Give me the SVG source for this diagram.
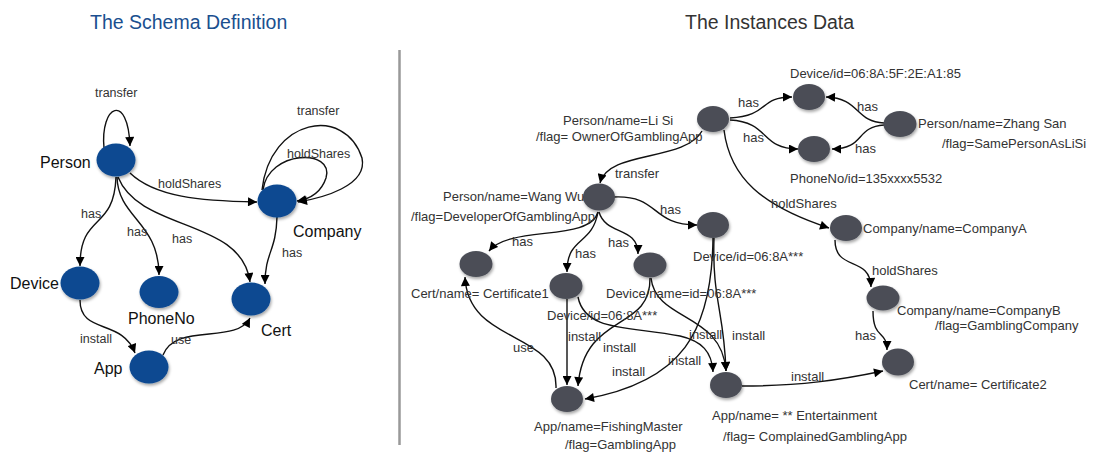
<svg xmlns="http://www.w3.org/2000/svg" width="1099" height="453" viewBox="0 0 1099 453">
<style>
text{font-family:"Liberation Sans",Arial,sans-serif}
.title{font-size:19.5px}
.sn{fill:#0e4a91}
.in{fill:#4b4e57}
.nl{font-size:16px;fill:#111}
.rl{font-size:13px;fill:#333}
.el{font-size:12.5px;fill:#333}
.e{fill:none;stroke:#111;stroke-width:1.4}
</style>
<defs>
<filter id="sh" x="-30%" y="-30%" width="160%" height="170%"><feDropShadow dx="1" dy="2" stdDeviation="1.5" flood-color="#000" flood-opacity="0.35"/></filter>
<marker id="arr" viewBox="0 0 10 10" refX="10" refY="5" markerWidth="10" markerHeight="9" markerUnits="userSpaceOnUse" orient="auto"><path d="M0,0 L10,5 L0,10 z" fill="#000"/></marker>
</defs>
<rect width="1099" height="453" fill="#fff"/>
<text class="title" x="90" y="29" fill="#1a4f8f">The Schema Definition</text>
<text class="title" x="685" y="29" fill="#333">The Instances Data</text>
<line x1="399.5" y1="50" x2="399.5" y2="445" stroke="#999" stroke-width="2.5"/>

<g id="connectors">
<g marker-end="url(#arr)" class="e">
<!-- schema -->
<path class="e" d="M104,148 C100,105 128,92 130,146"/>
<path class="e" d="M130,173 C155,197 200,201 257,202"/>
<path class="e" d="M263,190 C268,150 335,148 326,178 C321,193 310,199 297,201"/>
<path class="e" d="M262,190 C270,118 345,105 362,158 C368,186 322,198 298,202"/>
<path class="e" d="M116,177 C114,232 80,212 80,266"/>
<path class="e" d="M117,177 C118,218 159,222 159,275"/>
<path class="e" d="M118,177 C140,232 242,218 250,282"/>
<path class="e" d="M277,217 C276,252 265,252 265,284"/>
<path class="e" d="M80,300 C80,335 122,318 135,353"/>
<path class="e" d="M163,355 C176,322 236,345 250,318"/>
<!-- instances -->
<path class="e" d="M730,118 C770,116 758,97 792,97"/>
<path class="e" d="M730,120 C770,122 760,149 798,149"/>
<path class="e" d="M884,123 C855,122 860,98 826,97"/>
<path class="e" d="M884,125 C855,127 865,149 832,149"/>
<path class="e" d="M724,130 C730,178 762,206 829,228"/>
<path class="e" d="M702,131 C685,162 608,150 600,183"/>
<path class="e" d="M835,240 C835,272 870,255 871,287"/>
<path class="e" d="M873,311 C873,340 887,330 887,350"/>
<path class="e" d="M742,386 C800,386 840,380 883,371"/>
<path class="e" d="M614,197 C660,195 650,225 697,225"/>
<path class="e" d="M598,212 C590,242 510,225 489,251"/>
<path class="e" d="M598,212 C592,246 567,236 567,272"/>
<path class="e" d="M599,212 C606,236 638,226 638,254"/>
<path class="e" d="M556,388 C558,330 468,345 465,277"/>
<path class="e" d="M567,299 L567,385"/>
<path class="e" d="M578,297 C585,332 630,326 680,336 C702,341 712,352 713,372"/>
<path class="e" d="M650,278 C651,332 584,312 578,386"/>
<path class="e" d="M651,278 C656,322 722,312 726,371"/>
<path class="e" d="M713,238 C712,332 682,382 585,399"/>
<path class="e" d="M714,238 C712,300 724,310 726,371"/>
</g>
<g class="el">
<text x="95" y="97">transfer</text>
<text x="158" y="188">holdShares</text>
<text x="81" y="218">has</text>
<text x="127" y="236">has</text>
<text x="172" y="243">has</text>
<text x="297" y="115">transfer</text>
<text x="287" y="158">holdShares</text>
<text x="282" y="257">has</text>
<text x="80" y="343">install</text>
<text x="171" y="344">use</text>
</g>
<g class="rl">
<text x="615" y="178">transfer</text>
<text x="660" y="214">has</text>
<text x="512" y="246">has</text>
<text x="575" y="258">has</text>
<text x="608" y="247">has</text>
<text x="568" y="341">install</text>
<text x="603" y="352">install</text>
<text x="513" y="352">use</text>
<text x="612" y="376">install</text>
<text x="668" y="365">install</text>
<text x="689" y="339">install</text>
<text x="732" y="340">install</text>
<text x="791" y="381">install</text>
<text x="855" y="340">has</text>
<text x="738" y="107">has</text>
<text x="743" y="142">has</text>
<text x="857" y="111">has</text>
<text x="855" y="153">has</text>
<text x="771" y="208">holdShares</text>
<text x="872" y="275">holdShares</text>
</g>
</g>

<g id="s-person"><ellipse class="sn" filter="url(#sh)" cx="116" cy="160" rx="19.5" ry="16.5"/><text class="nl" x="40" y="168">Person</text></g>
<g id="s-company"><ellipse class="sn" filter="url(#sh)" cx="277" cy="201" rx="19.5" ry="16.5"/><text class="nl" x="293" y="237">Company</text></g>
<g id="s-device"><ellipse class="sn" filter="url(#sh)" cx="80" cy="283" rx="19.5" ry="16.5"/><text class="nl" x="10" y="289">Device</text></g>
<g id="s-phoneno"><ellipse class="sn" filter="url(#sh)" cx="159" cy="292" rx="19.5" ry="16"/><text class="nl" x="128" y="324">PhoneNo</text></g>
<g id="s-cert"><ellipse class="sn" filter="url(#sh)" cx="251" cy="299" rx="19.5" ry="16.5"/><text class="nl" x="261" y="336">Cert</text></g>
<g id="s-app"><ellipse class="sn" filter="url(#sh)" cx="149" cy="367" rx="19.5" ry="16.5"/><text class="nl" x="94" y="374">App</text></g>

<g id="i-lisi"><ellipse class="in" filter="url(#sh)" cx="713" cy="119" rx="16" ry="13"/><text class="rl" x="563" y="125">Person/name=Li Si</text><text class="rl" x="536" y="141">/flag= OwnerOfGamblingApp</text></g>
<g id="i-device5f"><ellipse class="in" filter="url(#sh)" cx="809" cy="97" rx="16" ry="13"/><text class="rl" x="790" y="78">Device/id=06:8A:5F:2E:A1:85</text></g>
<g id="i-phone"><ellipse class="in" filter="url(#sh)" cx="814" cy="149" rx="16" ry="13"/><text class="rl" x="790" y="183">PhoneNo/id=135xxxx5532</text></g>
<g id="i-zhangsan"><ellipse class="in" filter="url(#sh)" cx="900" cy="124" rx="16.5" ry="13"/><text class="rl" x="918" y="128">Person/name=Zhang San</text><text class="rl" x="942" y="148">/flag=SamePersonAsLiSi</text></g>
<g id="i-wangwu"><ellipse class="in" filter="url(#sh)" cx="599" cy="197" rx="16" ry="13.5"/><text class="rl" x="443" y="201">Person/name=Wang Wu</text><text class="rl" x="411" y="221">/flag=DeveloperOfGamblingApp</text></g>
<g id="i-device3"><ellipse class="in" filter="url(#sh)" cx="713" cy="225" rx="16" ry="13"/><text class="rl" x="693" y="261">Device/id=06:8A***</text></g>
<g id="i-cert1"><ellipse class="in" filter="url(#sh)" cx="476" cy="264" rx="16.5" ry="13"/><text class="rl" x="411" y="298">Cert/name= Certificate1</text></g>
<g id="i-device1"><ellipse class="in" filter="url(#sh)" cx="566" cy="286" rx="16.5" ry="13"/><text class="rl" x="547" y="320">Device/id=06:8A***</text></g>
<g id="i-device2"><ellipse class="in" filter="url(#sh)" cx="650" cy="265" rx="16.5" ry="12.5"/><text class="rl" x="606" y="298">Device/name=id=06:8A***</text></g>
<g id="i-appfishing"><ellipse class="in" filter="url(#sh)" cx="567" cy="399" rx="16" ry="13"/><text class="rl" x="534" y="431">App/name=FishingMaster</text><text class="rl" x="565" y="449">/flag=GamblingApp</text></g>
<g id="i-appent"><ellipse class="in" filter="url(#sh)" cx="726" cy="385" rx="16" ry="13"/><text class="rl" x="712" y="420">App/name= ** Entertainment</text><text class="rl" x="723" y="441">/flag= ComplainedGamblingApp</text></g>
<g id="i-companya"><ellipse class="in" filter="url(#sh)" cx="846" cy="228" rx="16" ry="13"/><text class="rl" x="863" y="233">Company/name=CompanyA</text></g>
<g id="i-companyb"><ellipse class="in" filter="url(#sh)" cx="883" cy="298" rx="16.5" ry="12.5"/><text class="rl" x="897" y="315">Company/name=CompanyB</text><text class="rl" x="935" y="330">/flag=GamblingCompany</text></g>
<g id="i-cert2"><ellipse class="in" filter="url(#sh)" cx="898" cy="362" rx="16" ry="13.5"/><text class="rl" x="909" y="389">Cert/name= Certificate2</text></g>
</svg>
